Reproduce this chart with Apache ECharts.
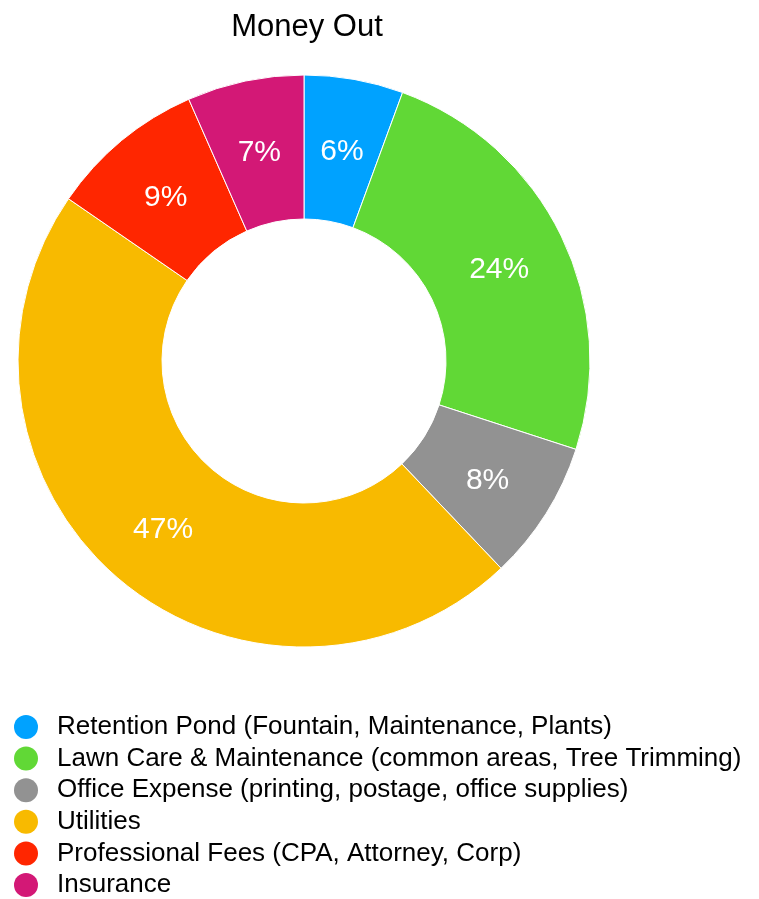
<!DOCTYPE html>
<html><head><meta charset="utf-8">
<script src="https://cdn.jsdelivr.net/npm/echarts@6/dist/echarts.min.js"></script>
<style>html,body{margin:0;padding:0;background:#fff}#c{width:759px;height:899px}</style>
</head><body><div id="c"></div>
<script>
const categories = [
  "Retention Pond (Fountain, Maintenance, Plants)",
  "Lawn Care & Maintenance (common areas, Tree Trimming)",
  "Office Expense (printing, postage, office supplies)",
  "Utilities",
  "Professional Fees (CPA, Attorney, Corp)",
  "Insurance"
];
const values = [5.6, 24.4, 7.9, 46.7, 8.8, 6.6];
const colors = ["#00A2FF", "#61D836", "#929292", "#F8BA00", "#FF2600", "#D31876"];
const FONT = '"Helvetica Neue", Helvetica, "Liberation Sans", Arial, sans-serif';

const chart = echarts.init(document.getElementById('c'));
chart.setOption({
  animation: false,
  title: {
    text: "Money Out", left: 302, top: 7, textAlign: 'center',
    textStyle: { fontSize: 31, fontWeight: 'normal', color: '#000', fontFamily: FONT }
  },
  legend: {
    orient: 'vertical', left: 14, top: 714, height: 190, width: 745, padding: 0,
    icon: 'circle', itemWidth: 24, itemHeight: 24, itemGap: 5.6,
    itemStyle: { borderWidth: 0 },
    textStyle: { fontSize: 26, lineHeight: 26, color: '#000', fontFamily: FONT, padding: [0, 0, 0, 14] },
    data: categories
  },
  series: [{
    type: 'pie',
    center: [304, 361],
    radius: [142, 286],
    startAngle: 90,
    clockwise: true,
    avoidLabelOverlap: false,
    percentPrecision: 2,
    label: {
      show: true, position: 'inside', color: '#fff',
      formatter: p => Math.round(p.percent) + '%',
      fontSize: 30, fontFamily: FONT, offset: [0, 4]
    },
    labelLine: { show: false },
    itemStyle: { borderColor: '#fff', borderWidth: 1 },
    emphasis: { disabled: true },
    data: categories.map((n, i) => ({ name: n, value: values[i], itemStyle: { color: colors[i] } }))
  }]
});
</script></body></html>
